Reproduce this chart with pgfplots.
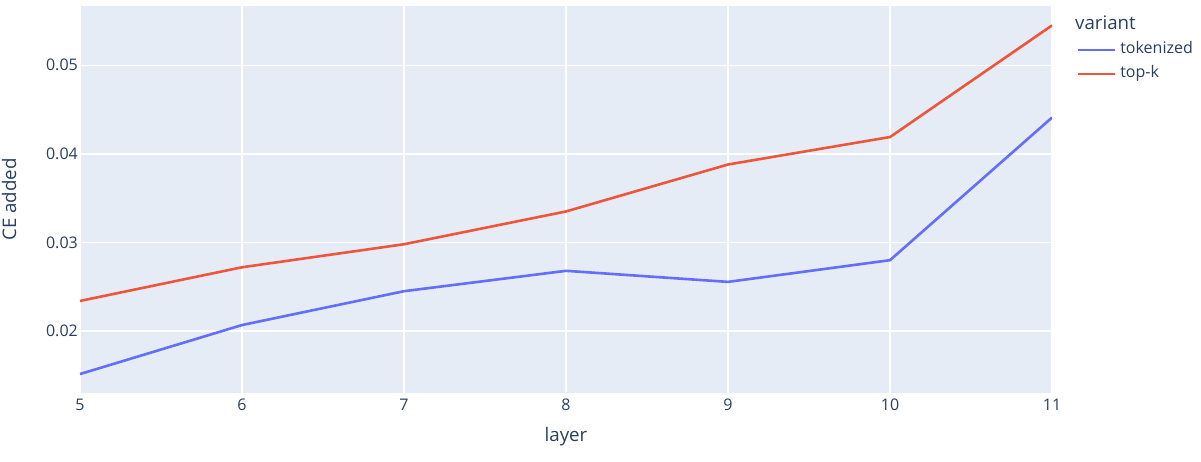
\documentclass[border=0pt]{standalone}
\usepackage{pgfplots}
\pgfplotsset{compat=1.18}
\usepackage{fontspec}
\setmainfont{Open Sans}
\definecolor{bg}{HTML}{E5ECF6}
\definecolor{txt}{HTML}{2A3F5F}
\definecolor{ctok}{HTML}{636EFA}
\definecolor{ctop}{HTML}{EF553B}
\begin{document}
\begin{tikzpicture}
\begin{axis}[
  name=ax,
  scale only axis,
  width=972pt, height=387pt,
  xmin=5, xmax=11, ymin=0.01301, ymax=0.05669,
  axis background/.style={fill=bg},
  axis line style={draw=none},
  major tick length=0pt,
  grid=major,
  major grid style={white, line width=1.3pt},
  xtick={5,6,7,8,9,10,11},
  ytick={0.02,0.03,0.04,0.05},
  yticklabel style={/pgf/number format/fixed, /pgf/number format/fixed zerofill, /pgf/number format/precision=2},
  /pgf/number format/assume math mode=true,
  scaled y ticks=false,
  tick label style={font=\fontsize{16}{19}\selectfont, text=txt, inner sep=0pt},
  xticklabel style={anchor=north, yshift=-6pt},
  yticklabel style={anchor=east, xshift=-2pt},
  xlabel={layer}, ylabel={CE added},
  label style={font=\fontsize{18.7}{22}\selectfont, text=txt},
  xlabel style={at={(rel axis cs:0.5,0)}, anchor=center, yshift=-44pt},
  ylabel style={at={(rel axis cs:0,0.5)}, anchor=center, yshift=71pt},
  legend style={at={(rel axis cs:1.0247,0.905)}, anchor=north west, draw=none, fill=none,
    font=\fontsize{16}{19}\selectfont, text=txt, row sep=10pt, column sep=4.5pt, inner sep=0pt,
    nodes={inner sep=0pt, text height=11pt, text depth=3pt}},
  legend cell align=left,
  legend image code/.code={\draw[#1] (0pt,0pt) -- (37pt,0pt);},
]
\addplot[ctok, line width=2.6pt] coordinates {(5,0.01515) (6,0.02068) (7,0.0245) (8,0.0268) (9,0.02555) (10,0.0280) (11,0.0441)};
\addlegendentry{tokenized}
\addplot[ctop, line width=2.6pt] coordinates {(5,0.0234) (6,0.0272) (7,0.0298) (8,0.0335) (9,0.0388) (10,0.0419) (11,0.0545)};
\addlegendentry{top-k}
\end{axis}
\node[anchor=base west, font=\fontsize{18.7}{22}\selectfont, text=txt, inner sep=0pt] at ([xshift=23pt,yshift=-24pt]ax.north east) {variant};
\pgfresetboundingbox
\path ([xshift=-80pt,yshift=-69pt]ax.south west) rectangle ([xshift=149pt,yshift=6pt]ax.north east);
\end{tikzpicture}
\end{document}
